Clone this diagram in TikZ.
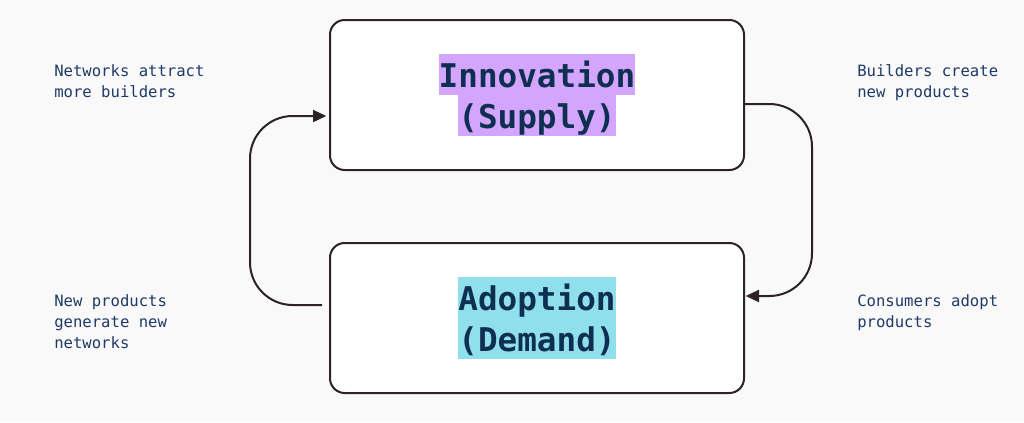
\documentclass[tikz,border=0pt]{standalone}
\usepackage{fontspec}
\setmonofont{DejaVu Sans Mono}
\usepackage{xcolor}
\usepackage{tikz}
\usetikzlibrary{arrows.meta,positioning,calc}
\definecolor{cBg}{HTML}{F9F9F9}
\definecolor{cLine}{HTML}{2E2324}
\definecolor{cText}{HTML}{1F3A66}
\definecolor{cTitle}{HTML}{0F2F52}
\definecolor{cSupply}{HTML}{D4A5FC}
\definecolor{cDemand}{HTML}{90E0EC}
\newcommand{\hlline}[2]{{\setlength{\fboxsep}{0pt}\colorbox{#1}{\rule[-6pt]{0pt}{30.75pt}#2}}}
\tikzset{
  stage/.style = {rectangle, rounded corners=11pt, draw=cLine, fill=white, line width=1.5pt,
                  minimum width=310.5pt, minimum height=112.5pt, align=center,
                  text=cTitle, font=\ttfamily\bfseries\fontsize{24.5}{30.75}\selectfont},
  note/.style  = {anchor=north west, inner sep=0pt, align=left, text=cText,
                  font=\ttfamily\fontsize{11.7}{15.75}\selectfont},
  flow/.style  = {-{Triangle[length=10pt,width=9pt]}, draw=cLine, line width=1.5pt,
                  rounded corners=32pt},
}
\begin{document}
\begin{tikzpicture}[x=0.75pt,y=-0.75pt]
  \fill[cBg] (0,0) rectangle (1024,422);
  \useasboundingbox (0,0) rectangle (1024,422);

  \node[stage] (supply) at (537,95) {\hlline{cSupply}{Innovation}\\\hlline{cSupply}{(Supply)}};
  \node[stage] (demand) at (537,318) {\hlline{cDemand}{Adoption}\\\hlline{cDemand}{(Demand)}};

  \node[note] (nattract) at (54,64) {Networks attract\\more builders};
  \node[note] (ncreate)  at (857,64) {Builders create\\new products};
  \node[note] (ngen)     at (54,294) {New products\\generate new\\networks};
  \node[note] (nadopt)   at (857,294) {Consumers adopt\\products};

  \coordinate (lft) at (250,210);
  \coordinate (rgt) at (812,200);
  \draw[flow] ([xshift=-5.25pt,yshift=9.75pt]demand.west) -| (lft) |- ([xshift=-2pt,yshift=-15.75pt]supply.west);
  \draw[flow] ([yshift=-6.75pt]supply.east) -| (rgt) |- ([xshift=0.5pt,yshift=16.5pt]demand.east);
\end{tikzpicture}
\end{document}
